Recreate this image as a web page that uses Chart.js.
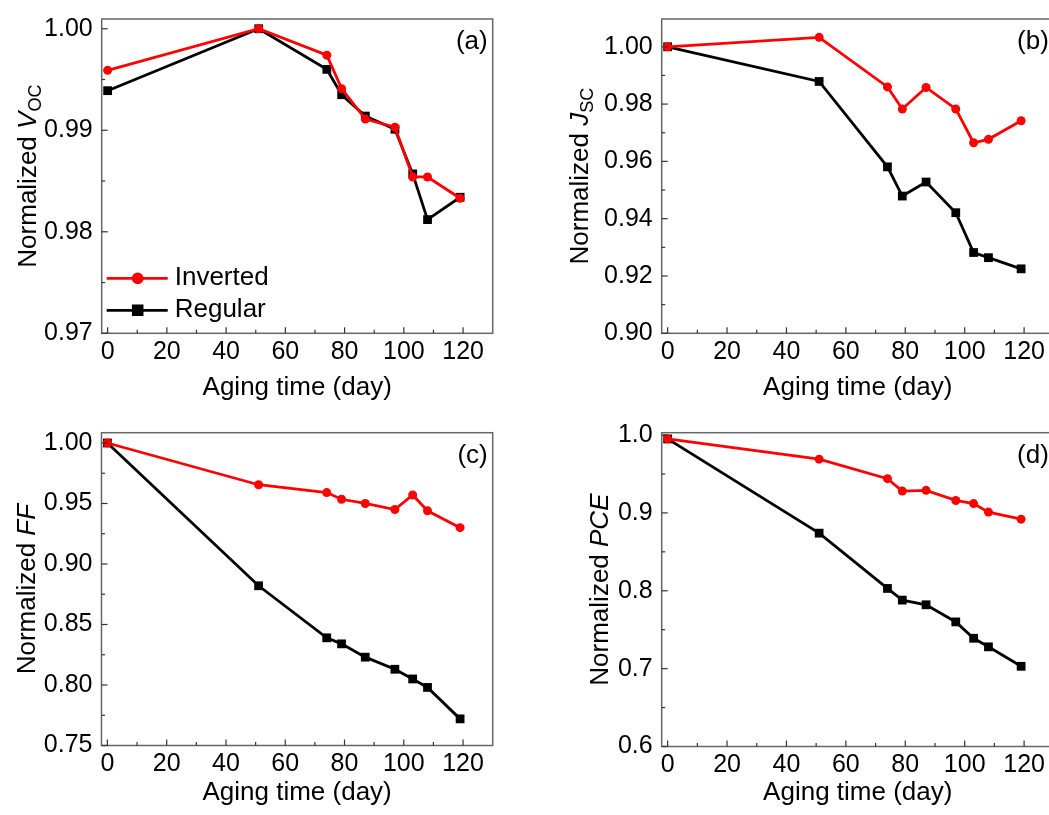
<!DOCTYPE html>
<html>
<head>
<meta charset="utf-8">
<title>Aging of inverted and regular cells</title>
<script src="https://cdn.jsdelivr.net/npm/chart.js@4.4.1/dist/chart.umd.min.js"></script>
<style>
  html, body { margin: 0; padding: 0; background: #fff; overflow: hidden; width: 1049px; height: 815px; }
  #wrap { position: relative; width: 1049px; height: 815px; overflow: hidden; }
  .panel { position: absolute; overflow: hidden; }
  .panel canvas { display: block; }
</style>
</head>
<body>
<div id="wrap">
  <div class="panel" style="left:0;top:0;width:520px;height:410px"><canvas id="chartA" width="520" height="410"></canvas></div>
  <div class="panel" style="left:520px;top:0;width:529px;height:410px"><canvas id="chartB" width="540" height="410"></canvas></div>
  <div class="panel" style="left:0;top:410px;width:520px;height:405px"><canvas id="chartC" width="520" height="405"></canvas></div>
  <div class="panel" style="left:520px;top:410px;width:529px;height:405px"><canvas id="chartD" width="540" height="405"></canvas></div>
</div>

<script>
// data
const days = [0, 51, 74, 79, 87, 97, 103, 108, 119];

const vocInverted = [0.9959, 1.0000, 0.9974, 0.9941, 0.9911, 0.9903, 0.9854, 0.9854, 0.9833];
const vocRegular  = [0.9939, 1.0000, 0.9960, 0.9935, 0.9914, 0.9901, 0.9857, 0.9812, 0.9834];
const jscInverted = [1.0000, 1.0033, 0.9860, 0.9783, 0.9858, 0.9783, 0.9665, 0.9677, 0.9742];
const jscRegular  = [1.0000, 0.9879, 0.9581, 0.9479, 0.9528, 0.9421, 0.9282, 0.9264, 0.9225];
const ffInverted  = [1.000, 0.9655, 0.959, 0.9535, 0.950, 0.945, 0.957, 0.944, 0.930];
const ffRegular   = [1.000, 0.882, 0.839, 0.834, 0.823, 0.813, 0.805, 0.798, 0.772];
const pceInverted = [0.995, 0.969, 0.944, 0.928, 0.929, 0.916, 0.912, 0.901, 0.892];
const pceRegular  = [0.995, 0.874, 0.803, 0.788, 0.782, 0.760, 0.739, 0.728, 0.703];

// tick values
const xMajor = [0, 20, 40, 60, 80, 100, 120];
const xMinor = [10, 30, 50, 70, 90, 110];
const vocTicks = [0.97, 0.98, 0.99, 1.00];
const vocMinor = [0.975, 0.985, 0.995];
const jscTicks = [0.90, 0.92, 0.94, 0.96, 0.98, 1.00];
const jscMinor = [0.91, 0.93, 0.95, 0.97, 0.99];
const ffTicks = [0.75, 0.80, 0.85, 0.90, 0.95, 1.00];
const ffMinor = [0.775, 0.825, 0.875, 0.925, 0.975];
const pceTicks = [0.6, 0.7, 0.8, 0.9, 1.0];
const pceMinor = [0.65, 0.75, 0.85, 0.95];

const FONT = '"Liberation Sans", Arial, Helvetica, sans-serif';
Chart.defaults.font.family = FONT;
Chart.defaults.color = "#000";

// frame, inward ticks, rich y title, panel letter and inset legend
const decorations = {
  id: "decorations",
  afterDraw(chart, args, opts) {
    const ctx = chart.ctx;
    const { left, right, top, bottom } = chart.chartArea;
    const xs = chart.scales.x;
    const ys = chart.scales.y;
    ctx.save();

    const seg = (x1, y1, x2, y2) => {
      ctx.beginPath();
      ctx.moveTo(x1, y1);
      ctx.lineTo(x2, y2);
      ctx.stroke();
    };

    ctx.strokeStyle = "#666";
    ctx.lineWidth = 1.5;
    ctx.strokeRect(left, top, right - left, bottom - top);

    ctx.strokeStyle = "#333";
    ctx.lineWidth = 1.2;
    xMajor.forEach((v) => { const p = xs.getPixelForValue(v); seg(p, bottom, p, bottom - 6); });
    xMinor.forEach((v) => { const p = xs.getPixelForValue(v); seg(p, bottom, p, bottom - 3.5); });
    opts.yMajor.forEach((v) => { const p = ys.getPixelForValue(v); seg(left, p, left + 6, p); });
    opts.yMinor.forEach((v) => { const p = ys.getPixelForValue(v); seg(left, p, left + 3.5, p); });

    // y title with italic symbol and subscript
    const fontOf = (part) =>
      (part.italic ? "italic " : "") + (part.sub ? "18px " : "26px ") + FONT;
    let total = 0;
    opts.yTitle.forEach((part) => {
      ctx.font = fontOf(part);
      total += ctx.measureText(part.text).width;
    });
    ctx.translate(opts.titleX, (top + bottom) / 2);
    ctx.rotate(-Math.PI / 2);
    ctx.fillStyle = "#000";
    ctx.textBaseline = "alphabetic";
    ctx.textAlign = "left";
    let pos = -total / 2;
    opts.yTitle.forEach((part) => {
      ctx.font = fontOf(part);
      ctx.fillText(part.text, pos, part.sub ? 14 : 9);
      pos += ctx.measureText(part.text).width;
    });
    ctx.setTransform(1, 0, 0, 1, 0, 0);

    // panel letter
    ctx.font = "26px " + FONT;
    ctx.textAlign = "right";
    ctx.textBaseline = "middle";
    ctx.fillText(opts.letter, right - 5, top + 23);

    // inset legend
    if (opts.legend) {
      const rows = [bottom - 55, bottom - 23];
      chart.data.datasets.forEach((ds, i) => {
        const y = rows[i];
        ctx.strokeStyle = ds.borderColor;
        ctx.lineWidth = ds.borderWidth;
        seg(left + 5, y, left + 66, y);
        Chart.helpers.drawPoint(ctx, {
          pointStyle: ds.pointStyle,
          radius: ds.pointRadius,
          borderWidth: 1,
          rotation: 0
        }, left + 36, y);
        ctx.fillStyle = ds.borderColor;
        ctx.fill();
        ctx.fillStyle = "#000";
        ctx.font = "26px " + FONT;
        ctx.textAlign = "left";
        ctx.textBaseline = "middle";
        ctx.fillText(ds.label, left + 73, y);
      });
    }
    ctx.restore();
  }
};

function series(values) {
  return days.map((d, i) => ({ x: d, y: values[i] }));
}

function makePanel(id, cfg) {
  const canvas = document.getElementById(id);
  const W = canvas.width, H = canvas.height;
  const a = cfg.area;
  new Chart(canvas.getContext("2d"), {
    type: "line",
    data: {
      datasets: [
        {
          label: "Inverted",
          data: series(cfg.inverted),
          borderColor: "#ff0000",
          backgroundColor: "#ff0000",
          borderWidth: 2.8,
          pointStyle: "circle",
          pointRadius: 4.5,
          pointBorderWidth: 0,
          tension: 0,
          clip: false
        },
        {
          label: "Regular",
          data: series(cfg.regular),
          borderColor: "#000000",
          backgroundColor: "#000000",
          borderWidth: 2.8,
          pointStyle: "rect",
          pointRadius: 6.2,
          pointBorderWidth: 0,
          tension: 0,
          clip: false
        }
      ]
    },
    options: {
      responsive: false,
      maintainAspectRatio: false,
      animation: false,
      events: [],
      layout: { padding: { left: 0, top: a.t, right: W - a.r, bottom: 0 } },
      plugins: {
        legend: { display: false },
        tooltip: { enabled: false },
        decorations: {
          yMajor: cfg.yTicks,
          yMinor: cfg.yMinor,
          yTitle: cfg.yTitle,
          titleX: cfg.titleX,
          letter: cfg.letter,
          legend: cfg.legend
        }
      },
      scales: {
        x: {
          type: "linear",
          min: -2,
          max: 130,
          grid: { display: false, drawTicks: false },
          border: { display: false },
          afterBuildTicks: (s) => { s.ticks = xMajor.map((v) => ({ value: v })); },
          afterFit: (s) => {
            s.height = H - a.b;
            s.paddingLeft = 0;
            s.paddingRight = 0;
          },
          ticks: { font: { size: 25 }, padding: 4, maxRotation: 0 },
          title: {
            display: true,
            text: "Aging time (day)",
            font: { size: 26 },
            padding: { top: 0, bottom: 7 }
          }
        },
        y: {
          min: cfg.yMin,
          max: cfg.yMax,
          grid: { display: false, drawTicks: false },
          border: { display: false },
          afterBuildTicks: (s) => { s.ticks = cfg.yTicks.map((v) => ({ value: v })); },
          afterFit: (s) => {
            s.width = a.l;
            s.paddingTop = 0;
            s.paddingBottom = 0;
          },
          ticks: {
            font: { size: 25 },
            padding: 9,
            callback: (v) => Number(v).toFixed(cfg.decimals)
          }
        }
      }
    },
    plugins: [decorations]
  });
}

makePanel("chartA", {
  inverted: vocInverted, regular: vocRegular,
  yMin: 0.97, yMax: 1.00096, yTicks: vocTicks, yMinor: vocMinor, decimals: 2,
  yTitle: [{ text: "Normalized " }, { text: "V", italic: true }, { text: "OC", sub: true }],
  titleX: 27, letter: "(a)", legend: true,
  area: { l: 101.7, t: 19, r: 492.7, b: 333.3 }
});

makePanel("chartB", {
  inverted: jscInverted, regular: jscRegular,
  yMin: 0.90, yMax: 1.0097, yTicks: jscTicks, yMinor: jscMinor, decimals: 2,
  yTitle: [{ text: "Normalized " }, { text: "J", italic: true }, { text: "SC", sub: true }],
  titleX: 59, letter: "(b)", legend: false,
  area: { l: 141.7, t: 19, r: 535, b: 333.3 }
});

makePanel("chartC", {
  inverted: ffInverted, regular: ffRegular,
  yMin: 0.75, yMax: 1.0085, yTicks: ffTicks, yMinor: ffMinor, decimals: 2,
  yTitle: [{ text: "Normalized " }, { text: "FF", italic: true }],
  titleX: 26, letter: "(c)", legend: false,
  area: { l: 101.5, t: 22.7, r: 492.7, b: 335.5 }
});

makePanel("chartD", {
  inverted: pceInverted, regular: pceRegular,
  yMin: 0.6, yMax: 1.003, yTicks: pceTicks, yMinor: pceMinor, decimals: 1,
  yTitle: [{ text: "Normalized " }, { text: "PCE", italic: true }],
  titleX: 79, letter: "(d)", legend: false,
  area: { l: 141.7, t: 22.7, r: 535, b: 336.5 }
});
</script>
</body>
</html>
